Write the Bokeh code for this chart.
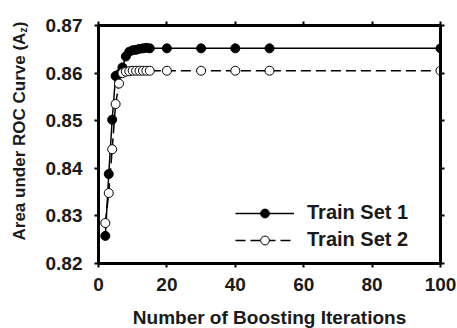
import math
from bokeh.plotting import figure
from bokeh.layouts import row, column
from bokeh.core.properties import value
from bokeh.models import LinearAxis, FixedTicker, Legend, LegendItem, Range1d, NumeralTickFormatter
from bokeh.embed import file_html
from bokeh.resources import INLINE

# ---- data ----
iterations = [2, 3, 4, 5, 6, 7, 8, 9, 10, 11, 12, 13, 14, 15, 20, 30, 40, 50, 100]
train_set_1 = [0.8258, 0.8388, 0.8502, 0.8594, 0.8598, 0.8612, 0.8635, 0.8645, 0.8648,
               0.8649, 0.8651, 0.8652, 0.8653, 0.8652, 0.8652, 0.8652, 0.8652, 0.8652, 0.8652]
train_set_2 = [0.8285, 0.8348, 0.8440, 0.8535, 0.8578, 0.8600, 0.8603, 0.8604, 0.8605,
               0.8605, 0.8605, 0.8605, 0.8605, 0.8605, 0.8605, 0.8605, 0.8605, 0.8605, 0.8605]
x_ticks = [0, 20, 40, 60, 80, 100]
y_ticks = [0.82, 0.83, 0.84, 0.85, 0.86, 0.87]
series_names = ["Train Set 1", "Train Set 2"]
x_label = "Number of Boosting Iterations"
y_label_main = "Area under ROC Curve (A"
y_label_sub = "z"
y_label_end = ")"

FONT = "Liberation Sans"
TXT = "#1a1a1a"
W, H = 457, 328
LAB_W = 30      # strip holding the y title
XLAB_H = 22     # strip holding the x title
PW, PH = W - LAB_W, H - XLAB_H

# ---- main plot ----
p = figure(width=PW, height=PH, output_backend="svg", toolbar_location=None,
           x_range=Range1d(0, 100), y_range=Range1d(0.82, 0.87),
           min_border_left=98 - LAB_W, min_border_right=17, min_border_top=25,
           min_border_bottom=PH - 263,
           background_fill_color="white", border_fill_color="white")
p.frame_align = False
p.grid.visible = False
p.outline_line_color = "black"
p.outline_line_width = 3

def style_axis(ax, labels=True):
    ax.axis_line_width = 3
    ax.axis_line_color = "black"
    ax.major_tick_line_width = 2
    ax.major_tick_line_color = "black"
    ax.major_tick_out = 4
    ax.major_tick_in = 1
    ax.minor_tick_line_color = None
    ax.major_label_text_font = FONT
    ax.major_label_text_font_style = "bold"
    if labels:
        ax.major_label_text_font_size = "19px"
        ax.major_label_text_color = TXT
    else:
        ax.major_label_text_font_size = "1px"
        ax.major_label_text_color = None
        ax.major_label_standoff = 0

p.xaxis.ticker = FixedTicker(ticks=x_ticks)
p.yaxis.ticker = FixedTicker(ticks=y_ticks)
p.yaxis.formatter = NumeralTickFormatter(format="0.00")
style_axis(p.xaxis[0])
style_axis(p.yaxis[0])
p.xaxis.major_label_standoff = 10
p.yaxis.major_label_standoff = 12

top = LinearAxis(ticker=FixedTicker(ticks=x_ticks))
right = LinearAxis(ticker=FixedTicker(ticks=y_ticks))
style_axis(top, labels=False)
style_axis(right, labels=False)
p.add_layout(top, "above")
p.add_layout(right, "right")

# ---- series ----
l1 = p.line(iterations, train_set_1, line_color="black", line_width=1.5)
s1 = p.scatter(iterations, train_set_1, size=9, fill_color="black", line_color="black", line_width=1)
l2 = p.line(iterations, train_set_2, line_color="black", line_width=1.5, line_dash="10 5")
s2 = p.scatter(iterations, train_set_2, size=9, fill_color="white", line_color="black", line_width=1)

legend = Legend(items=[LegendItem(label=series_names[0], renderers=[l1, s1]),
                       LegendItem(label=series_names[1], renderers=[l2, s2])],
                location=(137, 12), padding=0, margin=0, spacing=4,
                glyph_width=59, glyph_height=22, label_height=22, label_standoff=13,
                border_line_color=None, background_fill_alpha=0,
                label_text_font=FONT, label_text_font_style="bold",
                label_text_font_size="20px", label_text_color=TXT)
p.add_layout(legend, "center")

# ---- helper strips for the axis titles (pixel coordinates) ----
def strip(w, h):
    f = figure(width=w, height=h, output_backend="svg", toolbar_location=None,
               x_range=Range1d(0, w), y_range=Range1d(0, h), min_border=0,
               outline_line_color=None, background_fill_color="white",
               border_fill_color="white")
    f.frame_align = False
    f.axis.visible = False
    f.grid.visible = False
    return f

# y title with subscript z
lab = strip(LAB_W, H)
main_fs = 17
main_len = 12.224 * main_fs
sub_fs = 11
sub_len = 0.5 * sub_fs
base_x = 19
start_y = H - 240    # where "Area" begins (from bottom)
common = dict(angle=math.pi / 2, text_font=value(FONT), text_font_style="bold",
              text_color=TXT, text_align="left", text_baseline="alphabetic")
lab.text(x=[base_x], y=[start_y], text=[y_label_main], text_font_size=f"{main_fs}px", **common)
lab.text(x=[base_x + 3], y=[start_y + main_len], text=[y_label_sub],
         text_font_size=f"{sub_fs}px", **common)
lab.text(x=[base_x], y=[start_y + main_len + sub_len], text=[y_label_end],
         text_font_size=f"{main_fs}px", **common)

# x title centred under the frame
xlab = strip(PW, XLAB_H)
xlab.text(x=[(98 - LAB_W) + 171], y=[11], text=[x_label], text_font=value(FONT),
          text_font_style="bold", text_font_size="19px", text_color=TXT,
          text_align="center", text_baseline="alphabetic")

layout = row(lab, column(p, xlab, spacing=0), spacing=0)
open("out.html", "w").write(file_html(layout, INLINE))
